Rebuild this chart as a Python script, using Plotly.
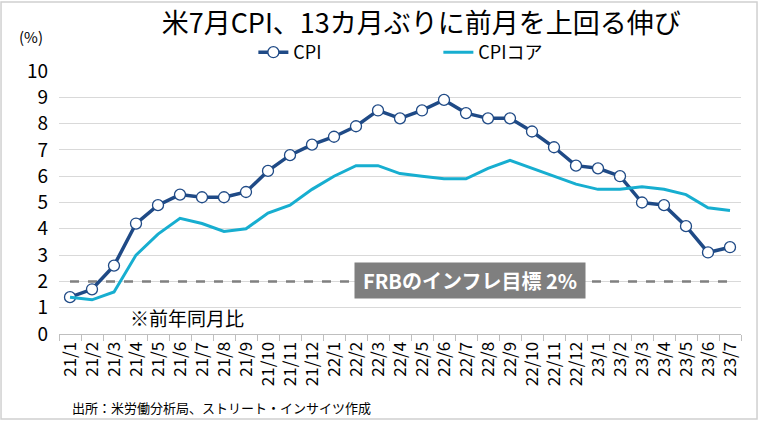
import plotly.graph_objects as go

months = ["21/1","21/2","21/3","21/4","21/5","21/6","21/7","21/8","21/9","21/10","21/11","21/12",
          "22/1","22/2","22/3","22/4","22/5","22/6","22/7","22/8","22/9","22/10","22/11","22/12",
          "23/1","23/2","23/3","23/4","23/5","23/6","23/7"]
cpi = [1.4, 1.7, 2.6, 4.2, 4.9, 5.3, 5.2, 5.2, 5.4, 6.2, 6.8, 7.2,
       7.5, 7.9, 8.5, 8.2, 8.5, 8.9, 8.4, 8.2, 8.2, 7.7, 7.1, 6.4,
       6.3, 6.0, 5.0, 4.9, 4.1, 3.1, 3.3]
core = [1.4, 1.3, 1.6, 3.0, 3.8, 4.4, 4.2, 3.9, 4.0, 4.6, 4.9, 5.5,
        6.0, 6.4, 6.4, 6.1, 6.0, 5.9, 5.9, 6.3, 6.6, 6.3, 6.0, 5.7,
        5.5, 5.5, 5.6, 5.5, 5.3, 4.8, 4.7]
target = [2.0] * len(months)
yticks = [0, 1, 2, 3, 4, 5, 6, 7, 8, 9, 10]

FONT = "Noto Sans CJK JP"
NAVY = "#1f4a86"
CYAN = "#17aed0"

fig = go.Figure()
fig.add_trace(go.Scatter(x=months, y=target, mode="lines", showlegend=False,
                         line=dict(color="#808080", width=2.5, dash="dash"), hoverinfo="skip"))
fig.add_trace(go.Scatter(x=months, y=cpi, mode="lines+markers", name="CPI",
                         line=dict(color=NAVY, width=3.5),
                         marker=dict(size=11, color="white", line=dict(color=NAVY, width=1.3))))
fig.add_trace(go.Scatter(x=months, y=core, mode="lines", name="CPIコア",
                         line=dict(color=CYAN, width=3)))

fig.update_layout(
    width=759, height=421,
    margin=dict(l=59, r=18, t=71, b=87),
    paper_bgcolor="white", plot_bgcolor="white",
    font=dict(family=FONT, color="#000000"),
    showlegend=True,
    legend=dict(orientation="h", x=0.285, xanchor="left", y=1.0, yanchor="bottom",
                font=dict(size=18, family=FONT), entrywidth=140, entrywidthmode="pixels",
                bgcolor="rgba(0,0,0,0)", itemwidth=30),
    xaxis=dict(type="category", range=[-0.5, len(months) - 0.5], tickangle=-90,
               tickfont=dict(size=17, family=FONT), ticks="outside", tickson="boundaries",
               ticklen=6, tickcolor="#bfbfbf", showline=True, linecolor="#bfbfbf",
               showgrid=False, fixedrange=True, automargin=False),
    yaxis=dict(range=[0, 10], tickvals=yticks, tickfont=dict(size=19, family=FONT),
               showgrid=True, gridcolor="#d9d9d9", gridwidth=1, zeroline=False,
               showline=False, ticklabelstandoff=10, fixedrange=True, automargin=False),
    title=dict(text="米7月CPI、13カ月ぶりに前月を上回る伸び", x=0.555, xanchor="center",
               y=0.945, yanchor="middle", font=dict(size=27, family=FONT)),
)

fig.add_annotation(text="(%)", xref="paper", yref="paper", x=-0.041, y=1.133,
                   xanchor="center", yanchor="middle", showarrow=False,
                   font=dict(size=15, family=FONT))
fig.add_annotation(text="<b>FRBのインフレ目標 2%</b>", xref="x", yref="y", x=18.2, y=2.05,
                   xanchor="center", yanchor="middle", showarrow=False,
                   bgcolor="#7f7f7f", font=dict(size=20, color="white", family=FONT),
                   width=228, height=33)
fig.add_annotation(text="※前年同月比", xref="x", yref="y", x=5.34, y=0.61,
                   xanchor="center", yanchor="middle", showarrow=False,
                   font=dict(size=19, family=FONT))
fig.add_annotation(text="出所：米労働分析局、ストリート・インサイツ作成", xref="paper", yref="paper",
                   x=0.016, y=-0.281, xanchor="left", yanchor="middle", showarrow=False,
                   font=dict(size=13, family=FONT))
fig.add_shape(type="rect", xref="paper", yref="paper", x0=-0.085, x1=1.0235, y0=-0.323, y1=1.262,
              line=dict(color="#d0d0d0", width=1.5), fillcolor="rgba(0,0,0,0)", layer="below")

fig.write_html("out.html", config={"displayModeBar": False},
               post_script="document.body.style.margin='0';")
